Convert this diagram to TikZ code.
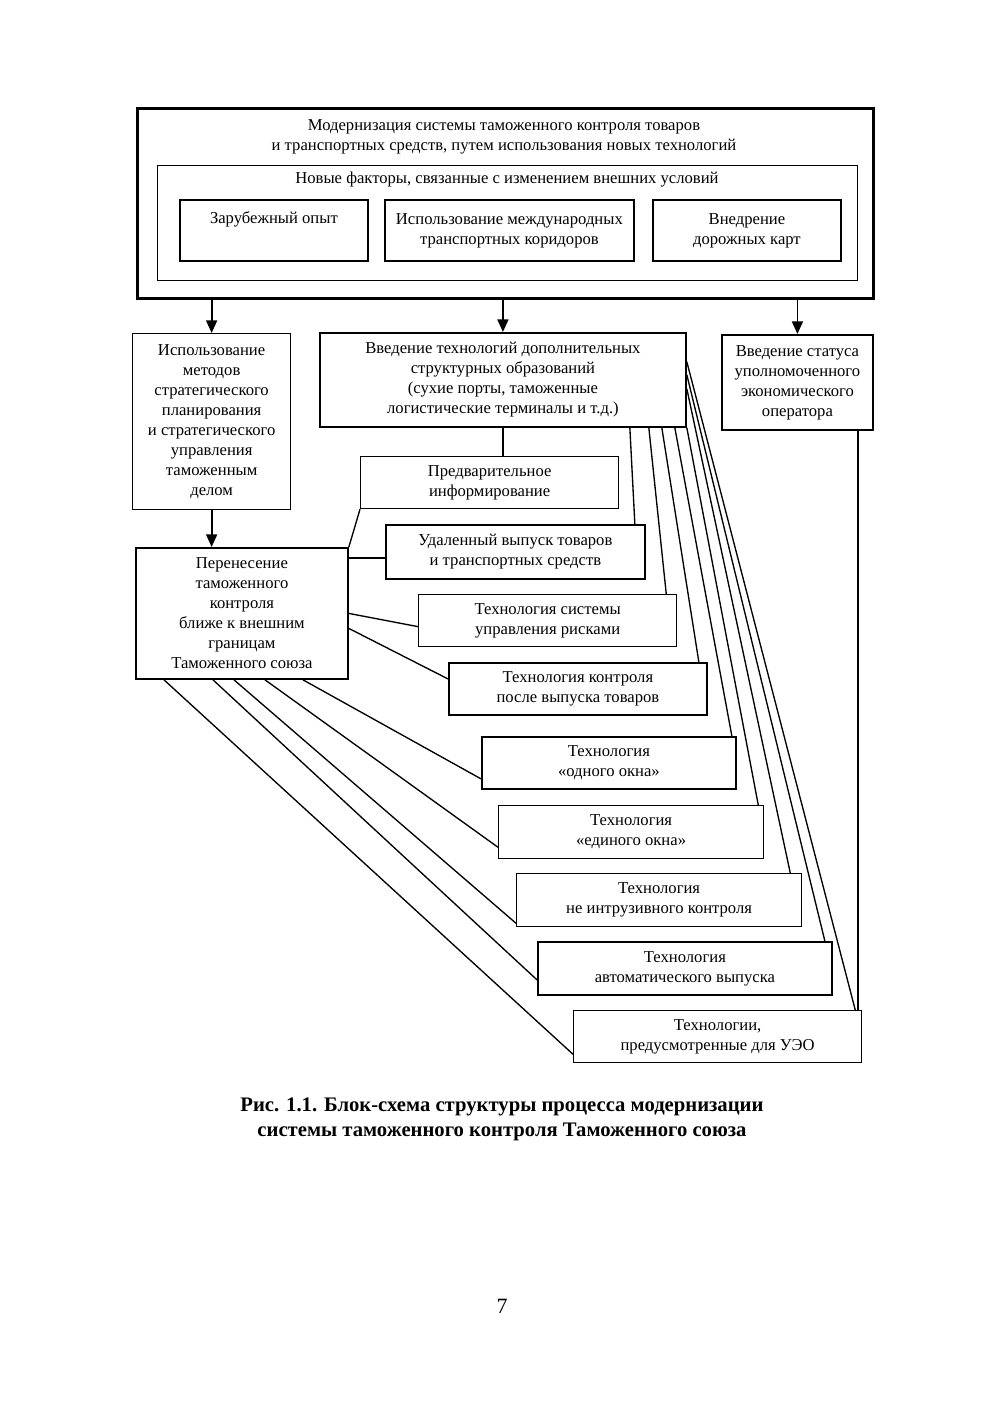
\documentclass[tikz,border=0pt]{standalone}
\usepackage{fontspec}
\setmainfont{Liberation Serif}
\usepackage{tikz}
\usetikzlibrary{positioning,calc}
\usetikzlibrary{arrows.meta}
\newlength\dpx
\setlength\dpx{0.020916cm}

\tikzset{
    blk/.style 2 args={draw, line width=1.1pt, anchor=north west, align=center,
        inner sep=1pt, minimum width=#1\dpx, minimum height=#2\dpx},
    lite/.style={line width=0.75pt},
    link/.style={line width=0.8pt},
    arr/.style={line width=1.1pt, -{Triangle[length=7.5pt,width=6.5pt]}}
}

\begin{document}
\begin{tikzpicture}[x=1\dpx, y=-1\dpx, font=\fontsize{9.9}{11.9}\selectfont]
    \useasboundingbox (0,0) rectangle (1004,1418);

    % top block
    \node[blk={736}{190}, line width=1.5pt] (outer) at (136,107) {};
    \node[align=center] (title) at (504,137) {Модернизация системы таможенного контроля товаров\\
        и транспортных средств, путем использования новых технологий};
    \node[blk={700}{115}, lite] (inner) at (157,165) {};
    \node (factors) at (507,180) {Новые факторы, связанные с изменением внешних условий};
    \node[blk={188}{61}] (abroad) at (179,199) {Зарубежный опыт\\ \strut};
    \node[blk={249}{61}] (corridor) at (384,199) {Использование международных\\транспортных коридоров};
    \node[blk={188}{61}] (roadmap) at (652,199) {Внедрение\\дорожных карт};

    % second row
    \node[blk={158}{176}, lite] (strat) at (132,333) {Использование\\методов\\стратегического\\планирования\\и стратегического\\управления\\таможенным\\делом};
    \node[blk={366}{94}] (struct) at (319,332) {Введение технологий дополнительных\\структурных образований\\(сухие порты, таможенные\\логистические терминалы и т.д.)};
    \node[blk={151}{95}] (status) at (721,334) {Введение статуса\\уполномоченного\\экономического\\оператора};

    \draw[arr] (strat.north |- outer.south) -- (strat.north);
    \draw[arr] (struct.north |- outer.south) -- (struct.north);
    \draw[arr] (status.north |- outer.south) -- (status.north);

    % technologies
    \node[blk={212}{131}] (transfer) at (135,547) {Перенесение\\таможенного\\контроля\\ближе к внешним\\границам\\Таможенного союза};
    \node[blk={258}{52}, lite] (predv) at (360,456) {Предварительное\\информирование};
    \node[blk={259}{54}] (remote) at (385,524) {Удаленный выпуск товаров\\и транспортных средств};
    \node[blk={258}{52}, lite] (risk) at (418,594) {Технология системы\\управления рисками};
    \node[blk={258}{52}] (post) at (448,662) {Технология контроля\\после выпуска товаров};
    \node[blk={254}{52}] (single) at (481,736) {Технология\\«одного окна»};
    \node[blk={265}{53}, lite] (unified) at (498,805) {Технология\\«единого окна»};
    \node[blk={285}{53}, lite] (scan) at (516,873) {Технология\\не интрузивного контроля};
    \node[blk={294}{53}] (auto) at (537,941) {Технология\\автоматического выпуска};
    \node[blk={288}{52}, lite] (aeo) at (573,1010) {Технологии,\\предусмотренные для УЭО};

    \draw[arr] (strat.south) -- (strat.south |- transfer.north);
    \draw[link] (struct.south) -- (struct.south |- predv.north);
    \draw[link] ([xshift=-16\dpx]status.south east) -- ([xshift=-16\dpx]status.south east |- aeo.north);

    % lines from the transfer block
    \coordinate (rw) at ($(remote.west)+(0,6)$);
    \draw[link] (transfer.north east) -- (predv.south west);
    \draw[link] (transfer.east |- rw) -- (rw);
    \draw[link] (transfer.east) -- ([yshift=-6\dpx]risk.west);
    \draw[link] ([yshift=-15\dpx]transfer.east) -- ([yshift=10\dpx]post.west);
    \draw[link] ([xshift=168\dpx]transfer.south west) -- ([yshift=11\dpx]single.south west);
    \draw[link] ([xshift=130\dpx]transfer.south west) -- ([yshift=12\dpx]unified.south west);
    \draw[link] ([xshift=99\dpx]transfer.south west) -- ([yshift=4\dpx]scan.south west);
    \draw[link] ([xshift=78\dpx]transfer.south west) -- ([yshift=16\dpx]auto.south west);
    \draw[link] ([xshift=29\dpx]transfer.south west) -- ([yshift=9\dpx]aeo.south west);

    % lines from the structures block
    \draw[link] ([xshift=-57\dpx]struct.south east) -- ([xshift=-11\dpx]remote.north east);
    \draw[link] ([xshift=-38\dpx]struct.south east) -- ([xshift=-11\dpx]risk.north east);
    \draw[link] ([xshift=-25\dpx]struct.south east) -- ([xshift=-9\dpx]post.north east);
    \draw[link] ([xshift=-12\dpx]struct.south east) -- ([xshift=-5\dpx]single.north east);
    \draw[link] (struct.south east) -- ([xshift=-6\dpx]unified.north east);
    \draw[link] ([yshift=39\dpx]struct.south east) -- ([xshift=-12\dpx]scan.north east);
    \draw[link] ([yshift=53\dpx]struct.south east) -- ([xshift=-8\dpx]auto.north east);
    \draw[link] ([yshift=66\dpx]struct.south east) -- ([xshift=-7\dpx]aeo.north east);

    % caption
    \node[align=center, font=\fontsize{12.3}{14.8}\selectfont\bfseries] (caption) at (502,1119)
        {Рис. 1.1. Блок-схема структуры процесса модернизации\\системы таможенного контроля Таможенного союза};
    \node[font=\fontsize{13}{15}\selectfont] (page) at (502,1306) {7};
\end{tikzpicture}
\end{document}
